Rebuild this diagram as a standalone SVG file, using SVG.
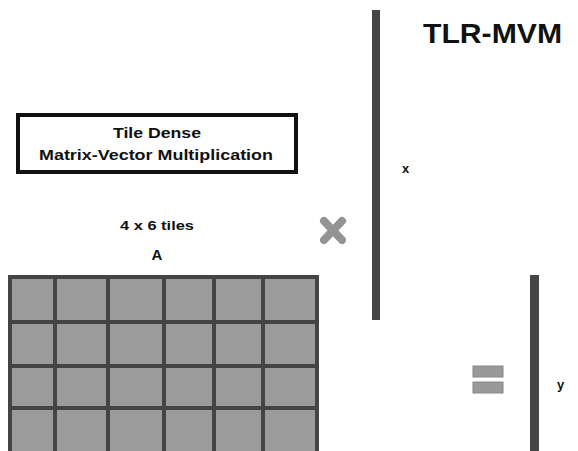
<svg xmlns="http://www.w3.org/2000/svg" width="578" height="451" viewBox="0 0 578 451">
<style>
text{font-family:"Liberation Sans",Arial,sans-serif;font-weight:bold;fill:#111;}
.bar{fill:#454545;}
.grid{stroke:#444;stroke-width:4;fill:none;}
</style>
<rect width="578" height="451" fill="#fff"/>
<g id="title"><text x="423" y="43" font-size="28" textLength="139" lengthAdjust="spacingAndGlyphs">TLR-MVM</text></g>
<g id="label-box">
<rect x="18" y="115" width="278" height="57" fill="#fff" stroke="#111" stroke-width="4"/>
<text x="157" y="138" font-size="15" text-anchor="middle" textLength="88" lengthAdjust="spacingAndGlyphs">Tile Dense</text>
<text x="156" y="160" font-size="15" text-anchor="middle" textLength="234" lengthAdjust="spacingAndGlyphs">Matrix-Vector Multiplication</text>
</g>
<g id="matrix-A">
<text x="157" y="230" font-size="13" text-anchor="middle" textLength="74" lengthAdjust="spacingAndGlyphs">4 x 6 tiles</text>
<text x="157" y="260" font-size="15" text-anchor="middle">A</text>
<rect x="10" y="277" width="307" height="180" fill="#9b9b9b"/>
<g class="grid">
<rect x="10" y="277" width="307" height="180"/>
<line x1="10" y1="322" x2="317" y2="322"/>
<line x1="10" y1="366" x2="317" y2="366"/>
<line x1="10" y1="408" x2="317" y2="408"/>
<line x1="55" y1="277" x2="55" y2="451"/>
<line x1="108" y1="277" x2="108" y2="451"/>
<line x1="164" y1="277" x2="164" y2="451"/>
<line x1="214" y1="277" x2="214" y2="451"/>
<line x1="263" y1="277" x2="263" y2="451"/>
</g>
</g>
<g id="times">
<path d="M324 221 L342 240 M342 221 L324 240" stroke="#949494" stroke-width="8" stroke-linecap="round"/>
</g>
<g id="vector-x">
<rect class="bar" x="372" y="10" width="8" height="310"/>
<text x="402" y="173" font-size="13">x</text>
</g>
<g id="equals">
<rect x="473" y="366" width="30" height="11" fill="#999" stroke="#888" stroke-width="1"/>
<rect x="473" y="382" width="30" height="11" fill="#999" stroke="#888" stroke-width="1"/>
</g>
<g id="vector-y">
<rect class="bar" x="530" y="275" width="9" height="176"/>
<text x="557" y="389" font-size="13">y</text>
</g>
<g id="connectors"></g>
</svg>
